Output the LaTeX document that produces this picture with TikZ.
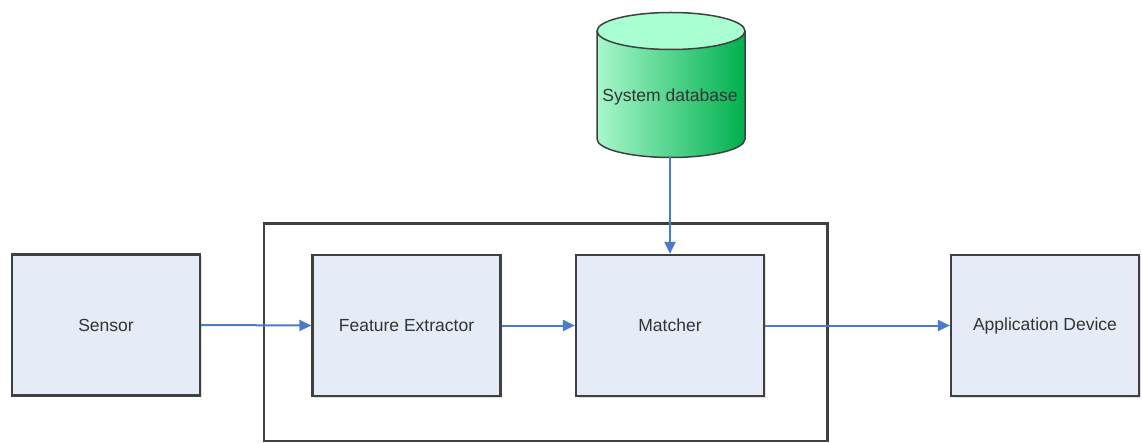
\documentclass[tikz,border=0pt]{standalone}
\usepackage{fontspec}
\setmainfont{Liberation Sans}
\usetikzlibrary{arrows.meta,shadows}
\definecolor{boxfill}{HTML}{E6ECF7}
\definecolor{boxline}{HTML}{404040}
\definecolor{flow}{HTML}{4A7CC8}
\definecolor{dbtop}{HTML}{A8FFD2}
\definecolor{dbleft}{HTML}{A8F7CC}
\definecolor{dbright}{HTML}{00B04E}
\tikzset{
  x=1pt, y=-1pt,
  block/.style={draw=boxline, line width=2.2pt, fill=boxfill,
    minimum width=188pt, minimum height=141pt, inner sep=0pt,
    font=\fontsize{17.5}{20}\selectfont, text=black!80,
    drop shadow={shadow xshift=1.5pt, shadow yshift=-1.5pt, opacity=0.25}},
  frame/.style={draw=boxline, line width=2.2pt},
  flowarrow/.style={draw=flow, line width=2pt,
    -{Triangle[length=12pt,width=11pt]}},
}
\begin{document}
\begin{tikzpicture}
\useasboundingbox (0,0) rectangle (1142,443);
% enclosing frame around extractor and matcher
\draw[frame] (264,223.5) rectangle (827.5,441);
% processing blocks
\node[block] (sensor) at (106,325) {Sensor};
\node[block] (extract) at (406.5,325.5) {Feature Extractor};
\node[block] (match) at (670,325.5) {Matcher};
\node[block] (app) at (1045,325.5) {Application Device};
% database cylinder
\shade[left color=dbleft, right color=dbright]
  (597,31) -- (597,139) arc[start angle=180, end angle=0, x radius=74, y radius=18.5]
  -- (745,31) -- cycle;
\draw[boxline, line width=1.5pt]
  (597,31) -- (597,139) arc[start angle=180, end angle=0, x radius=74, y radius=18.5]
  -- (745,31);
\draw[boxline, line width=1.5pt, fill=dbtop] (671,31) ellipse[x radius=74, y radius=18.5];
\node[font=\fontsize{17.5}{20}\selectfont, text=black!80] (db) at (670,97) {System database};
\coordinate (dbbase) at (670,157.5);
% data flow
\draw[flowarrow] (sensor.east) -- (extract.west);
\draw[flowarrow] (extract.east) -- (match.west);
\draw[flowarrow] (match.east) -- (app.west);
\draw[flowarrow] (dbbase) -- (match.north);
\end{tikzpicture}
\end{document}
